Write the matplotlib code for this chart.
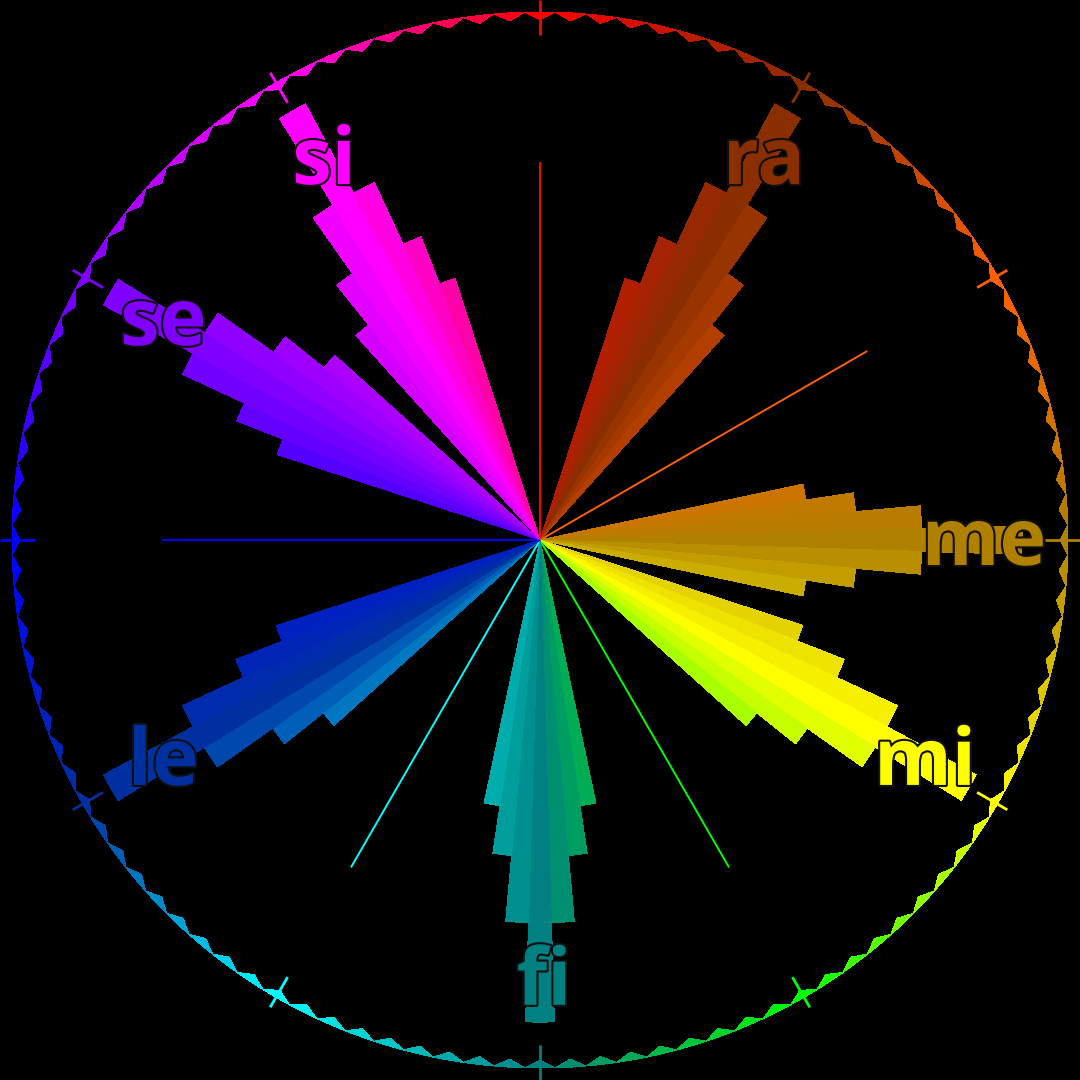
import numpy as np
import matplotlib
matplotlib.use("Agg")
import matplotlib.pyplot as plt
import matplotlib.patheffects as pe
from matplotlib.colors import to_rgb
from matplotlib.transforms import offset_copy

# ---- data -------------------------------------------------------------
note_names = ['do', 'ra', 're', 'me', 'mi', 'fa', 'fi', 'so', 'le', 'la', 'se', 'si']
note_angles = [0, 30, 60, 90, 120, 150, 180, 210, 240, 270, 300, 330]
note_colors = ['#ff0000', '#8a2e00', '#ff6000', '#b08000', '#ffff00', '#00ff00',
               '#008080', '#00ffff', '#0030a0', '#0000ff', '#8000ff', '#ff00ff']

wedge_notes = ['ra', 'me', 'mi', 'fi', 'le', 'se', 'si']
ra_vals = [0.521, 0.617, 0.746, 0.938, 0.746, 0.617, 0.521]
me_vals = [0.509, 0.600, 0.723, 0.913, 0.723, 0.600, 0.509]
mi_vals = [0.523, 0.619, 0.746, 0.938, 0.746, 0.619, 0.525]
fi_vals = [0.509, 0.600, 0.725, 0.913, 0.725, 0.600, 0.509]
le_vals = [0.525, 0.619, 0.747, 0.939, 0.746, 0.619, 0.525]
se_vals = [0.523, 0.617, 0.746, 0.939, 0.746, 0.617, 0.523]
si_vals = [0.521, 0.617, 0.746, 0.938, 0.746, 0.617, 0.521]
wedge_vals = [ra_vals, me_vals, mi_vals, fi_vals, le_vals, se_vals, si_vals]

line_notes = ['do', 're', 'fa', 'so', 'la']
line_length = 0.716

label_radius = 0.833
ring_count = 108

# ---- helpers ----------------------------------------------------------
C = np.array([to_rgb(c) for c in note_colors])


def wheel(deg):
    pos = (deg % 360.0) / 30.0
    i = int(np.floor(pos)) % 12
    t = pos - np.floor(pos)
    return tuple((1 - t) * C[i] + t * C[(i + 1) % 12])


angle_of = dict(zip(note_names, note_angles))
color_of = dict(zip(note_names, note_colors))

# ---- figure -----------------------------------------------------------
fig = plt.figure(figsize=(10.8, 10.8), dpi=100, facecolor='black')
R = 528 / 1080.0
ax = fig.add_axes([0.5 - R, 0.5 - R, 2 * R, 2 * R], projection='polar')
ax.set_theta_zero_location('N')
ax.set_theta_direction(-1)
ax.set_ylim(0, 1)
ax.axis('off')

# spokes
for n in line_notes:
    th = np.deg2rad(angle_of[n])
    ax.plot([th, th], [0, line_length], color=color_of[n], lw=1.4,
            solid_capstyle='butt', zorder=2)

# wedges made of 7 slices
span = 24.0
nsl = 7
w = span / nsl
for n, vals in zip(wedge_notes, wedge_vals):
    a0 = angle_of[n]
    centers = [a0 + (i - (nsl - 1) / 2) * w for i in range(nsl)]
    cols = [wheel(c) for c in centers]
    ax.bar(np.deg2rad(centers), vals, width=np.deg2rad(w), bottom=0,
           color=cols, linewidth=0, antialiased=False, zorder=3)

# outer ring of small triangles
tw = 360.0 / ring_count
for k in range(ring_count):
    c = k * tw
    arc = np.linspace(c - tw / 2, c + tw / 2, 6)
    th = np.deg2rad(np.concatenate([arc, [c]]))
    rr = np.concatenate([np.ones(len(arc)), [0.985]])
    ax.fill(th, rr, color=wheel(c), linewidth=0, antialiased=False,
            zorder=4, clip_on=False)

# cross ticks every 30 degrees
for a in note_angles:
    th = np.deg2rad(a)
    ax.plot([th, th], [0.956, 1.022], color=wheel(a), lw=2.0,
            solid_capstyle='butt', clip_on=False, zorder=5)

# labels
lab_tr = offset_copy(ax.transData, fig=fig, x=4, y=-25, units='dots')
for n in wedge_notes:
    th = np.deg2rad(angle_of[n])
    ax.text(th, label_radius, n, ha='center', va='baseline',
            fontsize=57, fontweight='bold', transform=lab_tr,
            family=['Open Sans', 'DejaVu Sans'], color=color_of[n],
            path_effects=[pe.withStroke(linewidth=3, foreground='#101010')],
            zorder=6)

fig.savefig('out.png', dpi=100, facecolor='black')
